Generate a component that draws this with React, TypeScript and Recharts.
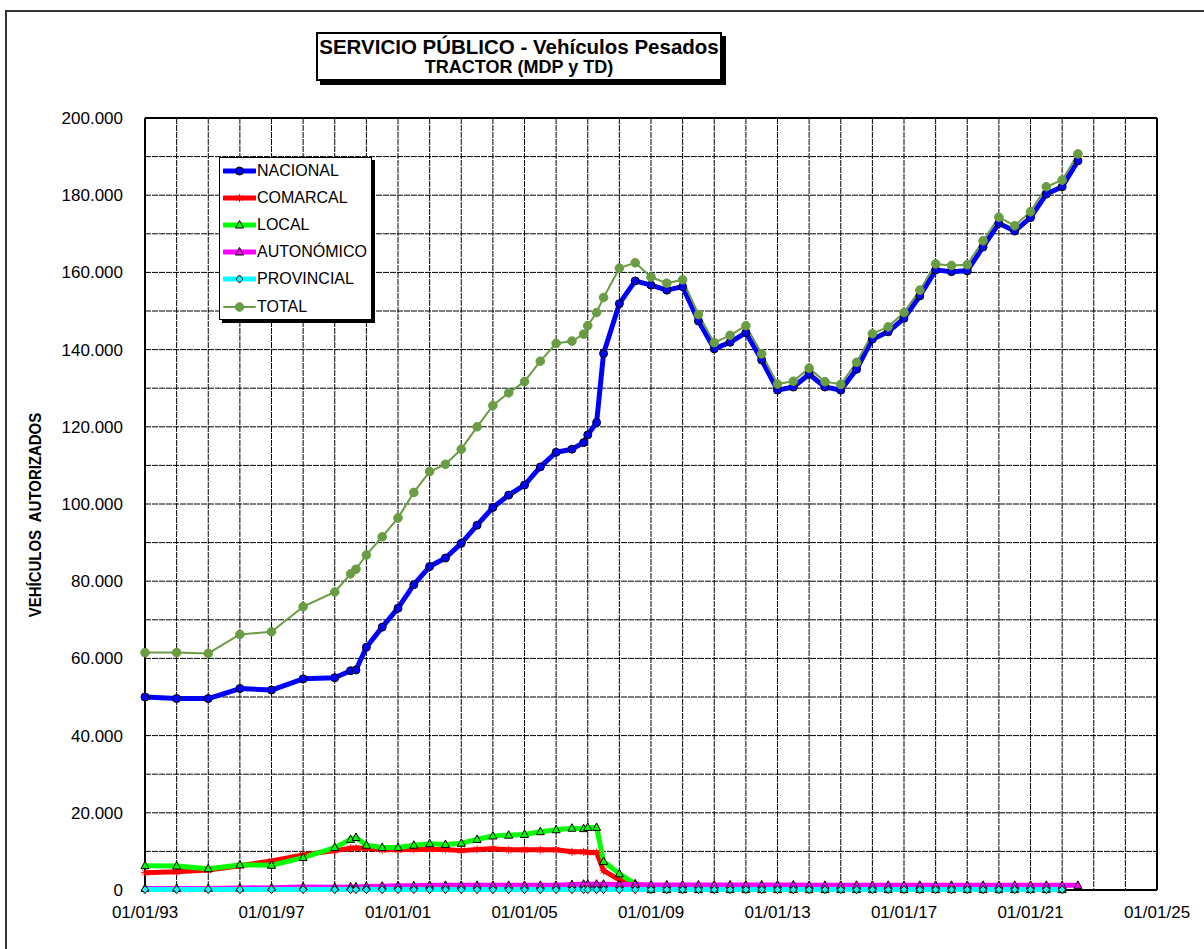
import { LineChart, Line, XAxis, YAxis, CartesianGrid, Legend } from 'recharts';

// fechas como año decimal (01/01 = .0, 01/07 = .5)
const fechas = [
  1993, 1994, 1995, 1996, 1997, 1998, 1999, 1999.5, 1999.67,
  2000, 2000.5, 2001, 2001.5, 2002, 2002.5, 2003, 2003.5, 2004, 2004.5, 2005, 2005.5, 2006, 2006.5,
  2006.87, 2007, 2007.28, 2007.5,
  2008, 2008.5, 2009, 2009.5, 2010, 2010.5, 2011, 2011.5, 2012, 2012.5, 2013, 2013.5, 2014, 2014.5,
  2015, 2015.5, 2016, 2016.5, 2017, 2017.5, 2018, 2018.5, 2019, 2019.5, 2020, 2020.5, 2021, 2021.5,
  2022, 2022.5,
];

const nacional = [
  50000, 49600, 49600, 52200, 51800, 54700, 55000, 56800, 57000,
  62900, 68100, 73000, 79100, 83800, 86000, 89800, 94500, 99100, 102300, 104900, 109600, 113400, 114200,
  115900, 117900, 121100, 139000,
  151900, 157800, 156700, 155400, 156300, 147400, 140200, 141900, 144400, 137300, 129500, 130300, 133600, 130300,
  129500, 134900, 142700, 144600, 148100, 153900, 160600, 160200, 160400, 166600, 172700, 170700, 174200, 180300,
  182200, 188900,
];

const comarcal = [
  4500, 4700, 5200, 6300, 7500, 9100, 10200, 10800, 10900,
  10800, 10400, 10400, 10500, 10500, 10500, 10200, 10500, 10700, 10400, 10400, 10400, 10400, 9900,
  9900, 9700, 9700, 5000,
  2600, 1400, 200, 200, 200, 200, 200, 200, 200, 200, 200, 200, 200, 200,
  200, 200, 200, 200, 200, 200, 200, 200, 200, 200, 200, 200, 200, 200,
  200, null,
];

const local = [
  6300, 6200, 5500, 6500, 6400, 8400, 11000, 13100, 13600,
  11600, 11000, 11000, 11600, 12000, 11800, 12100, 13100, 14000, 14200, 14400, 15100, 15600, 16000,
  15900, 16200, 16200, 7400,
  4200, 1600, 100, 100, 100, 100, 100, 100, 100, 100, 100, 100, 100, 100,
  100, 100, 100, 100, 100, 100, 100, 100, 100, 100, 100, 100, 100, 100,
  100, null,
];

const autonomico = [
  400, 400, 400, 500, 600, 800, 700, 800, 800,
  900, 1000, 1100, 1100, 1200, 1200, 1200, 1200, 1200, 1200, 1200, 1200, 1200, 1400,
  1500, 1500, 1500, 1500,
  1400, 1400, 1300, 1300, 1300, 1300, 1300, 1300, 1300, 1300, 1300, 1300, 1200, 1200,
  1200, 1200, 1200, 1200, 1200, 1200, 1200, 1200, 1200, 1200, 1200, 1200, 1200, 1200,
  1200, 1200,
];

const provincial = [
  100, 100, 100, 100, 100, 100, 100, 100, 100,
  100, 100, 100, 100, 100, 100, 100, 100, 100, 100, 100, 100, 100, 100,
  100, 100, 100, 100,
  100, 100, 100, 100, 100, 100, 100, 100, 100, 100, 100, 100, 100, 100,
  100, 100, 100, 100, 100, 100, 100, 100, 100, 100, 100, 100, 100, 100,
  100, null,
];

const total = [
  61500, 61500, 61300, 66200, 66900, 73400, 77200, 81900, 83100,
  86800, 91500, 96400, 103000, 108400, 110300, 114200, 120000, 125500, 128800, 131700, 137000, 141600, 142200,
  144000, 146200, 149600, 153500,
  161100, 162500, 158800, 157200, 158100, 149100, 141800, 143700, 146200, 138900, 131100, 131800, 135200, 131700,
  131000, 136700, 144100, 145900, 149600, 155400, 162200, 161800, 162000, 168200, 174300, 172100, 175700, 182200,
  183900, 190700,
];

const labelYears = [1993, 1997, 2001, 2005, 2009, 2013, 2017, 2021, 2025];

const data = fechas.map((f, i) => ({
  fecha: f,
  nacional: nacional[i],
  comarcal: comarcal[i],
  local: local[i],
  autonomico: autonomico[i],
  provincial: provincial[i],
  total: total[i],
}));

const xTicks = Array.from({ length: 33 }, (_, i) => 1993 + i);
const yTicks = Array.from({ length: 21 }, (_, i) => i * 10000);

const series = [
  { key: 'nacional', name: 'NACIONAL', color: '#0000ff', width: 5, marker: 'circle' },
  { key: 'comarcal', name: 'COMARCAL', color: '#ff0000', width: 5, marker: 'asterisk' },
  { key: 'local', name: 'LOCAL', color: '#00ff00', width: 5, marker: 'triangle' },
  { key: 'autonomico', name: 'AUTONÓMICO', color: '#ff00ff', width: 5, marker: 'triangle' },
  { key: 'provincial', name: 'PROVINCIAL', color: '#00ffff', width: 5, marker: 'diamond' },
  { key: 'total', name: 'TOTAL', color: '#6a9c44', width: 2, marker: 'dot' },
];

const FONT = "'Liberation Sans', Arial, sans-serif";

function marker(kind: string, color: string, cx: number, cy: number, key: string) {
  switch (kind) {
    case 'circle':
      return <circle key={key} cx={cx} cy={cy} r={4} fill={color} stroke="#000" strokeWidth={1} />;
    case 'dot':
      return <circle key={key} cx={cx} cy={cy} r={4.3} fill={color} stroke={color} strokeWidth={1} />;
    case 'triangle':
      return (
        <polygon
          key={key}
          points={`${cx},${cy - 4.5} ${cx - 4},${cy + 3} ${cx + 4},${cy + 3}`}
          fill={color}
          stroke="#000"
          strokeWidth={1}
        />
      );
    case 'diamond':
      return (
        <polygon
          key={key}
          points={`${cx},${cy - 4} ${cx + 3.5},${cy} ${cx},${cy + 4} ${cx - 3.5},${cy}`}
          fill={color}
          stroke="#000"
          strokeWidth={1}
        />
      );
    case 'asterisk':
      return (
        <g key={key} stroke={color} strokeWidth={1}>
          <line x1={cx - 4} y1={cy} x2={cx + 4} y2={cy} />
          <line x1={cx} y1={cy - 4} x2={cx} y2={cy + 4} />
          <line x1={cx - 3} y1={cy - 3} x2={cx + 3} y2={cy + 3} />
          <line x1={cx - 3} y1={cy + 3} x2={cx + 3} y2={cy - 3} />
        </g>
      );
    default:
      return <g key={key} />;
  }
}

const fmtY = (v: number) => (v % 20000 === 0 ? String(v).replace(/\B(?=(\d{3})+(?!\d))/g, '.') : '');
const fmtX = (v: number) => (labelYears.includes(v) ? `01/01/${String(v).slice(2)}` : '');

// borde del área de trazado, dibujado en la capa de la rejilla (debajo de las series)
const borderRows = ({ offset }: any) => [offset.top, offset.top + offset.height];
const borderCols = ({ offset }: any) => [offset.left, offset.left + offset.width];

function LegendBox(props: any) {
  const payload = props.payload || [];
  return (
    <div
      style={{
        width: 153,
        height: 163,
        boxSizing: 'border-box',
        border: '1px solid #000',
        background: '#fff',
        boxShadow: '3px 3px 0 #000',
        fontFamily: FONT,
        fontSize: 16,
        color: '#000',
      }}
    >
      {series.map((s) => {
        const p = payload.find((x: any) => x.dataKey === s.key);
        return (
          <div key={s.key} style={{ display: 'flex', alignItems: 'center', height: 27.2, marginLeft: 3, marginTop: s.key === 'nacional' ? -1 : 0 }}>
            <svg width={33} height={14} style={{ display: 'block' }}>
              <line x1={1} y1={7} x2={32} y2={7} stroke={s.color} strokeWidth={s.width} strokeLinecap="round" />
              {marker(s.marker, s.color, 16.5, 7, 'm')}
            </svg>
            <span style={{ marginLeft: 1, lineHeight: '16px' }}>{p ? p.value : s.name}</span>
          </div>
        );
      })}
    </div>
  );
}

export default function App() {
  return (
    <div
      style={{
        position: 'absolute',
        left: 0,
        top: 0,
        width: 1204,
        height: 949,
        background: '#fff',
        overflow: 'hidden',
        fontFamily: FONT,
      }}
    >
      <div style={{ position: 'absolute', left: 5, top: 10, width: 1199, height: 2, background: '#333' }} />
      <div style={{ position: 'absolute', left: 5, top: 10, width: 2, height: 939, background: '#333' }} />

      <LineChart width={1204} height={949} data={data} margin={{ top: 118, right: 47, bottom: 19, left: 65 }}>
        <CartesianGrid stroke="#000" strokeDasharray="6 1" strokeWidth={1} />
        <CartesianGrid
          stroke="#000"
          strokeWidth={2}
          horizontalCoordinatesGenerator={borderRows}
          verticalCoordinatesGenerator={borderCols}
        />
        <XAxis
          dataKey="fecha"
          type="number"
          domain={[1993, 2025]}
          ticks={xTicks}
          interval={0}
          tickFormatter={fmtX}
          tickLine={false}
          tickSize={0}
          tickMargin={16}
          height={40}
          axisLine={false}
          tick={{ fill: '#000', fontSize: 17, fontFamily: FONT }}
        />
        <YAxis
          type="number"
          domain={[0, 200000]}
          ticks={yTicks}
          interval={0}
          tickFormatter={fmtY}
          tickLine={false}
          tickSize={0}
          tickMargin={22}
          width={80}
          axisLine={false}
          tick={{ fill: '#000', fontSize: 17, fontFamily: FONT }}
        />
        {series.map((s) => (
          <Line
            key={s.key}
            type="linear"
            dataKey={s.key}
            name={s.name}
            stroke={s.color}
            strokeWidth={s.width}
            strokeLinejoin="round"
            activeDot={false}
            isAnimationActive={false}
            dot={(p: any) =>
              p.cx == null || p.cy == null || p.value == null
                ? <g key={`${s.key}-${p.index}`} />
                : marker(s.marker, s.color, p.cx, p.cy, `${s.key}-${p.index}`)
            }
          />
        ))}
        <Legend
          layout="vertical"
          align="center"
          verticalAlign="middle"
          wrapperStyle={{ left: 219, top: 157, width: 'auto', height: 'auto' }}
          content={(props: any) => <LegendBox payload={props.payload} />}
        />
      </LineChart>

      <div
        style={{
          position: 'absolute',
          left: 316,
          top: 32,
          width: 406,
          height: 49,
          boxSizing: 'border-box',
          border: '2px solid #000',
          boxShadow: '4px 4px 0 #000',
          background: '#fff',
          textAlign: 'center',
          fontWeight: 'bold',
          color: '#000',
        }}
      >
        <div style={{ fontSize: 20.5, lineHeight: '22px', marginTop: 2 }}>SERVICIO PÚBLICO - Vehículos Pesados</div>
        <div style={{ fontSize: 18, lineHeight: '19px' }}>TRACTOR (MDP y TD)</div>
      </div>

      <div
        style={{
          position: 'absolute',
          left: 36,
          top: 515,
          transform: 'translate(-50%, -50%) rotate(-90deg) scaleX(0.88)',
          whiteSpace: 'pre',
          fontSize: 17,
          fontWeight: 'bold',
          color: '#000',
        }}
      >
        {'VEHÍCULOS  AUTORIZADOS'}
      </div>
    </div>
  );
}
